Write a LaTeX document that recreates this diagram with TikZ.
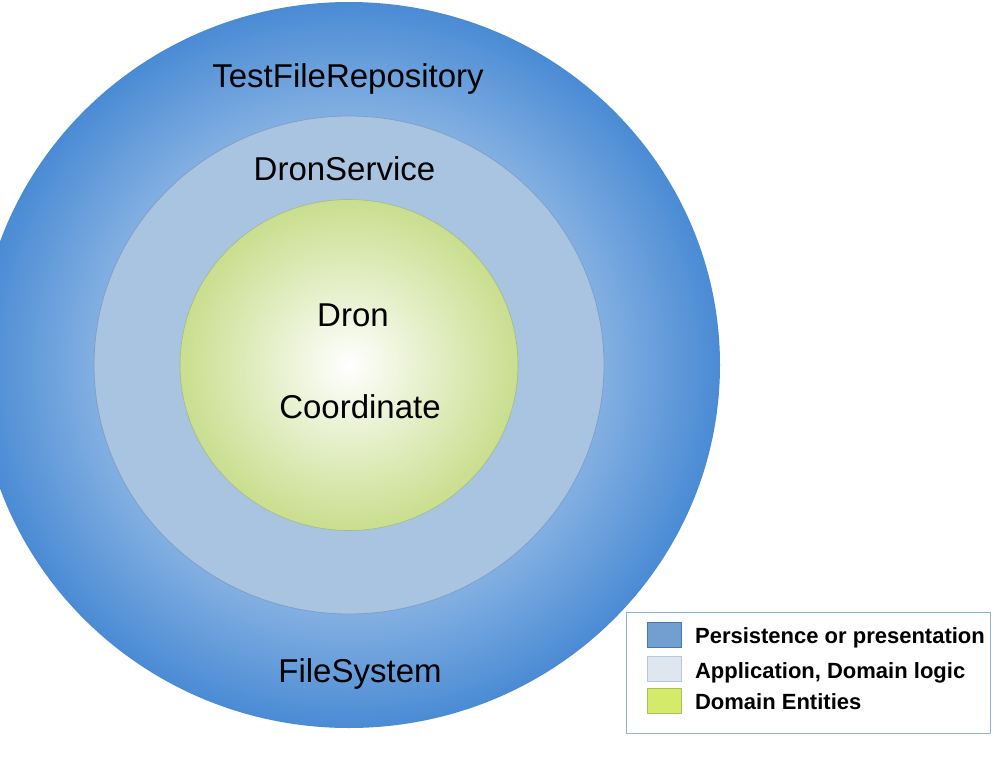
\documentclass[tikz,border=0pt]{standalone}
\usepackage{fontspec}
\setmainfont{Liberation Sans}
\usetikzlibrary{calc}
\usetikzlibrary{positioning}
\usetikzlibrary{shapes.geometric}
\definecolor{outerblue}{HTML}{4A8BD4}
\definecolor{midblue}{HTML}{A9C4E1}
\definecolor{midedge}{HTML}{7F9FC9}
\definecolor{coregreen}{HTML}{C9DE8E}
\definecolor{coreedge}{HTML}{A3B98A}
\definecolor{keyframe}{HTML}{8EB2D8}
\pgfdeclareradialshading{outershade}{\pgfpoint{0bp}{0bp}}{color(0bp)=(white); color(25bp)=(outerblue); color(50bp)=(outerblue)}
\pgfdeclareradialshading{coreshade}{\pgfpoint{0bp}{0bp}}{color(0bp)=(white); color(25bp)=(coregreen); color(50bp)=(coregreen)}
\tikzstyle{ringnode} = [ellipse, inner sep=0pt, outer sep=0pt]
\tikzstyle{ringlabel} = [font=\fontsize{33}{39}\selectfont, anchor=base, inner sep=0pt]
\tikzstyle{keybox} = [draw=keyframe, line width=1pt, inner sep=0pt, minimum width=364, minimum height=121]
\tikzstyle{keyswatch} = [draw, line width=0.8pt, inner sep=0pt, minimum width=34, minimum height=25]
\tikzstyle{keytext} = [font=\bfseries\fontsize{22}{26}\selectfont, anchor=base west, inner sep=0pt]
\tikzstyle{colorA} = [fill={rgb,255:red,114;green,159;blue,207}, draw={rgb,255:red,70;green,120;blue,185}]
\tikzstyle{colorB} = [fill={rgb,255:red,222;green,230;blue,239}, draw={rgb,255:red,180;green,199;blue,220}]
\tikzstyle{colorC} = [fill={rgb,255:red,212;green,234;blue,107}, draw={rgb,255:red,168;green,194;blue,90}]

\begin{document}
\begin{tikzpicture}[x=1pt, y=-1pt]
    \clip (0,0) rectangle (994,764);
    \fill[white] (0,0) rectangle (994,764);

    \node[ringnode, shading=outershade, minimum width=742, minimum height=726] (outer_ring) at (349,365) {};
    \node[ringnode, draw=midedge, line width=0.8pt, fill=midblue, minimum width=510, minimum height=498] (mid_ring) at (outer_ring) {};
    \node[ringnode, draw=coreedge, line width=0.6pt, shading=coreshade, minimum width=338, minimum height=331] (core_ring) at (mid_ring) {};

    \node[ringlabel] (lbl_repo) at ($(outer_ring.center)+(-1,-278)$) {TestFileRepository};
    \node[ringlabel] (lbl_fs) at ($(outer_ring.center)+(11,317)$) {FileSystem};
    \node[ringlabel] (lbl_service) at ($(mid_ring.center)+(-4.5,-185)$) {DronService};
    \node[ringlabel] (lbl_dron) at ($(core_ring.center)+(4,-39)$) {Dron};
    \node[ringlabel] (lbl_coord) at ($(core_ring.center)+(11,53)$) {Coordinate};

    \node[keybox] (key_box) at (808.5,672.5) {};
    \node[keyswatch, colorA] (key_a) at ($(key_box.north west)+(38.5,23.5)$) {};
    \node[keyswatch, colorB] (key_b) at ($(key_a)+(0,33.5)$) {};
    \node[keyswatch, colorC] (key_c) at ($(key_b)+(0,32.5)$) {};
    \node[keytext] (key_a_txt) at ($(key_a.east)+(13,8.5)$) {Persistence or presentation};
    \node[keytext] (key_b_txt) at ($(key_b.east)+(13,10)$) {Application, Domain logic};
    \node[keytext] (key_c_txt) at ($(key_c.east)+(13,8.5)$) {Domain Entities};
\end{tikzpicture}
\end{document}
